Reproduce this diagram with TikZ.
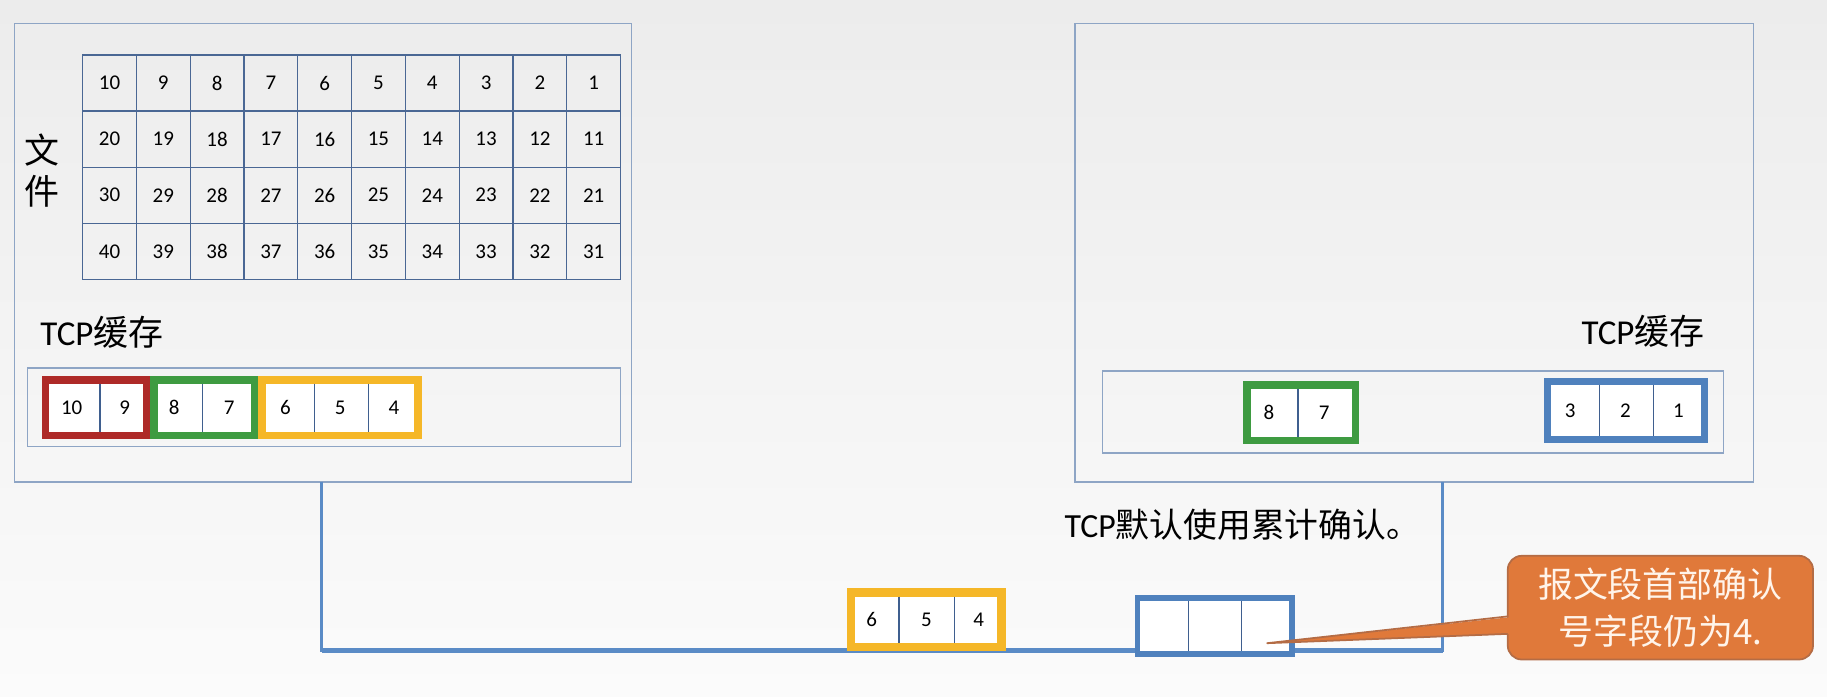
\documentclass[tikz,border=0pt]{standalone}
\usepackage{fontspec}
\setmainfont{Carlito}
\newfontfamily\cjk{Noto Sans CJK SC}
\usetikzlibrary{calc}
\definecolor{bgtop}{HTML}{ECECEC}
\definecolor{bgbot}{HTML}{FBFBFB}
\definecolor{boxc}{HTML}{8EA5C5}
\definecolor{gridc}{HTML}{4A6794}
\definecolor{divc}{HTML}{3F5F8F}
\definecolor{pred}{HTML}{AE2A28}
\definecolor{pgreen}{HTML}{3E9B41}
\definecolor{pyellow}{HTML}{F5B728}
\definecolor{pblue}{HTML}{4F81BD}
\definecolor{wirec}{HTML}{5A8BC6}
\definecolor{callfill}{HTML}{E0793A}
\definecolor{callborder}{HTML}{B46C45}
\definecolor{calltext}{HTML}{FFF4EA}
\tikzset{
  hostbox/.style={draw=boxc, line width=1.3pt, inner sep=0pt, outer sep=0pt},
  bufbox/.style={draw=boxc, line width=1.3pt, inner sep=0pt, outer sep=0pt},
  gridcell/.style={draw=gridc, line width=1.1pt, minimum width=46.17pt, minimum height=48.15pt, inner sep=0pt, outer sep=0pt, font=\fontsize{18}{20}\selectfont},
  pktbox/.style={fill=white, inner sep=0pt, outer sep=0pt},
  divider/.style={draw=divc, line width=1pt},
  num/.style={inner sep=0pt, font=\fontsize{18}{20}\selectfont},
  wire/.style={draw=wirec, line width=2.8pt},
  calloutbox/.style={fill=callfill, draw=callborder, line width=1.5pt, rounded corners=12pt, inner sep=0pt, outer sep=0pt, text=calltext, align=center, font=\cjk\fontsize{30}{41}\selectfont},
  lbl/.style={inner sep=0pt, font=\fontsize{30}{34}\selectfont}
}
\newcommand\mkpkt[9]{%
  \pgfmathsetmacro\pkw{#6-#4-#3}%
  \pgfmathsetmacro\pkh{#7-#5-#3}%
  \pgfmathsetmacro\pkcx{(#4+#6)/2}%
  \pgfmathsetmacro\pkcy{(#5+#7)/2}%
  \node[pktbox, draw=#2, line width=#3pt, minimum width=\pkw pt, minimum height=\pkh pt] (#1) at (\pkcx,\pkcy) {};
  \foreach \dx in {#8} {\draw[divider] (\dx,#5+#3) -- (\dx,#7-#3);}
  \foreach \nx/\nt [count=\ni] in {#9} {\node[num] (#1n\ni) at (\nx,\pkcy) {\nt};}
}
\begin{document}
\begin{tikzpicture}[x=1pt,y=-1pt]
\useasboundingbox (0,0) rectangle (1568,598);
\shade[top color=bgtop, bottom color=bgbot] (0,0) rectangle (1568,598);

% hosts
\node[hostbox, minimum width=529.7pt, minimum height=393.5pt] (lhost) at (277.15,216.75) {};
\node[hostbox, minimum width=582.4pt, minimum height=393.5pt] (rhost) at (1213.8,216.75) {};

% file grid
\foreach \r in {0,...,3} {
  \foreach \c in {0,...,9} {
    \pgfmathtruncatemacro\cn{10*(\r+1)-\c}
    \node[gridcell] (f\r\c) at ({70.9+46.17*\c+23.085},{47.2+48.15*\r+24.075}) {\cn};
  }
}
\node[inner sep=0pt, align=center, font=\cjk\fontsize{30}{35}\selectfont] (filelbl) at (36,146.5) {文\\件};

% labels
\node[lbl, anchor=west] (lbuflbl) at (34.5,285) {TCP{\cjk 缓存}};
\node[lbl, anchor=east] (rbuflbl) at (1463,284) {TCP{\cjk 缓存}};

% buffers
\node[bufbox, minimum width=508.8pt, minimum height=67.4pt] (lbuf) at (278.2,349.7) {};
\node[bufbox, minimum width=533pt, minimum height=70.1pt] (rbuf) at (1212.5,353.55) {};

% packets in sender buffer
\mkpkt{pr}{pred}{6.5}{35.8}{322.7}{128.8}{377}{85.8}{61.5/10,107/9}
\mkpkt{pg}{pgreen}{6.5}{128.8}{322.7}{221.5}{377}{174}{149.6/8,196.6/7}
\mkpkt{py}{pyellow}{6.5}{221.5}{322.7}{362}{377}{270,316.5}{245/6,292/5,338/4}

% packets in receiver buffer
\mkpkt{qg}{pgreen}{6.5}{1067}{327}{1166.6}{381.4}{1114}{1089/8,1136.5/7}
\mkpkt{qb}{pblue}{6}{1325}{324.7}{1465.5}{380.5}{1372.6,1419}{1347.6/3,1395/2,1440.5/1}

% wire
\coordinate (w1) at (276,413.5);
\coordinate (w2) at (276,558);
\coordinate (w3) at (1238,558);
\coordinate (w4) at (1238,413.5);
\draw[wire] (w1) -- (w2) -- (w3) -- (w4);
\draw[wire, line width=4.2pt] (w2) -- (w3);

\node[lbl, anchor=west, font=\fontsize{29}{33}\selectfont] (ackrule) at (913.5,450) {TCP{\cjk 默认使用累计确认。}};

% packets on the wire
\mkpkt{wy}{pyellow}{7}{727}{505}{863}{559}{771.6,819}{748/6,795/5,840/4}
\node[pktbox, draw=pblue, line width=5pt, minimum width=132.8pt, minimum height=48pt] (wb) at (1042.7,537.5) {};
\draw[divider] (1019.7,516) -- (1019.7,559);
\draw[divider] (1065.8,516) -- (1065.8,559);

% callout
\node[calloutbox, minimum width=262pt, minimum height=89pt] (note) at (1425,521.5) {报文段首部确认\\号字段仍为4.};
\coordinate (tip) at (1087.5,552);
\fill[callfill] ($(note.west)+(8,7.5)$) -- (tip) -- ($(note.west)+(8,22.5)$) -- cycle;
\draw[callborder, line width=1.5pt, line join=round] ($(note.west)+(0,7.5)$) -- (tip) -- ($(note.west)+(0,22.5)$);
\end{tikzpicture}
\end{document}
